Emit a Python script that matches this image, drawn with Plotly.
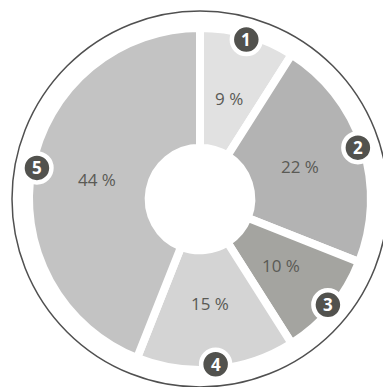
import math
import plotly.graph_objects as go

labels = ["1", "2", "3", "4", "5"]
values = [9, 22, 10, 15, 44]
colors = ["#e1e1e1", "#b3b3b3", "#a4a4a0", "#d4d4d4", "#c3c3c3"]

W, H = 383, 387
CX, CY = 200, 199
R_PIE = 171
R_RING = 188
R_BADGE = 166
R_TEXT = 105
BADGE_R = 14.5

def px(x):
    return x / W

def py(y):
    return 1 - y / H

fig = go.Figure()
fig.add_trace(go.Pie(
    labels=labels, values=values, sort=False, direction="clockwise", rotation=0,
    hole=0.30,
    marker=dict(colors=colors, line=dict(color="white", width=8)),
    textinfo="none",
    domain=dict(x=[px(CX - R_PIE), px(CX + R_PIE)], y=[py(CY + R_PIE), py(CY - R_PIE)]),
    showlegend=False, hoverinfo="skip",
))

shapes = [dict(type="circle", xref="paper", yref="paper",
               x0=px(CX - R_RING), x1=px(CX + R_RING), y0=py(CY + R_RING), y1=py(CY - R_RING),
               line=dict(color="#505050", width=1.5), layer="below")]
annotations = []
total = sum(values)
cum = 0
for lab, v in zip(labels, values):
    mid = (cum + v / 2) / total * 2 * math.pi
    cum += v
    bx = CX + R_BADGE * math.sin(mid)
    by = CY - R_BADGE * math.cos(mid)
    tx = CX + R_TEXT * math.sin(mid)
    ty = CY - R_TEXT * math.cos(mid)
    shapes.append(dict(type="circle", xref="paper", yref="paper", xsizemode="pixel", ysizemode="pixel",
                       xanchor=px(bx), yanchor=py(by), x0=-BADGE_R, x1=BADGE_R, y0=-BADGE_R, y1=BADGE_R,
                       fillcolor="#52524e", line=dict(color="white", width=4.5), layer="above"))
    annotations.append(dict(x=px(bx), y=py(by), xref="paper", yref="paper", text="<b>%s</b>" % lab,
                            showarrow=False, font=dict(family="Open Sans", size=17, color="white"),
                            xanchor="center", yanchor="middle"))
    annotations.append(dict(x=px(tx), y=py(ty), xref="paper", yref="paper", text="%d %%" % v,
                            showarrow=False, font=dict(family="Open Sans", size=17, color="#5a5a55"),
                            xanchor="center", yanchor="middle"))

fig.update_layout(width=W, height=H, margin=dict(l=0, r=0, t=0, b=0),
                  paper_bgcolor="white", plot_bgcolor="white",
                  shapes=shapes, annotations=annotations)
fig.write_html("out.html")
